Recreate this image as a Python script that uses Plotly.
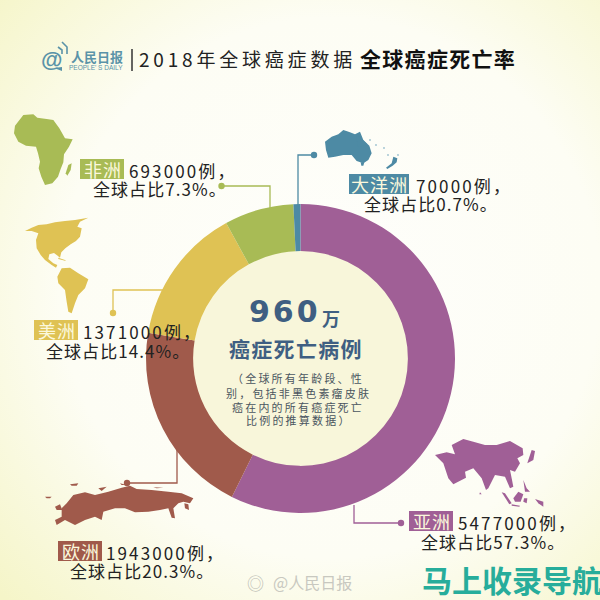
import urllib.parse
import plotly.graph_objects as go

# ---- data ----
regions = ["亚洲", "欧洲", "美洲", "非洲", "大洋洲"]
cases = [5477000, 1943000, 1371000, 693000, 70000]
shares = ["57.3", "20.3", "14.4", "7.3", "0.7"]
colors = ["#a05f96", "#a05a4b", "#dfc254", "#a8bb55", "#4d8aa4"]
title_light = "2018年全球癌症数据"
title_bold = "全球癌症死亡率"
center_big = "960"
center_unit = "万"
center_sub = "癌症死亡病例"
center_notes = ["（全球所有年龄段、性", "别，包括非黑色素瘤皮肤", "癌在内的所有癌症死亡", "比例的推算数据）"]

CJK = "Noto Sans CJK SC"
SERIF = "Liberation Serif, Noto Sans CJK SC"
INK = "#222222"
NAVY = "#3f5f82"
LOGO = "#5a93a8"
HAIR = "\u200a"
THIN = "\u2009"


def px(x):
    return x / 600


def py(y):
    return 1 - y / 600


def sp(s, gap=HAIR):
    return gap.join(s)


shapes = []
ann = []


def poly(points, color, ox=0, oy=0, k=1.0):
    pts = [(ox + a * k, oy + b * k) for a, b in points]
    d = "M" + "L".join(f"{px(a):.5f},{py(b):.5f}" for a, b in pts) + "Z"
    shapes.append(dict(type="path", path=d, xref="paper", yref="paper",
                       fillcolor=color, line=dict(width=0), layer="below"))


def line(points, color, width=1.3):
    d = "M" + "L".join(f"{px(a):.5f},{py(b):.5f}" for a, b in points)
    shapes.append(dict(type="path", path=d, xref="paper", yref="paper",
                       line=dict(color=color, width=width), layer="below"))


def circle(x, y, r, color, layer="below"):
    shapes.append(dict(type="circle", xref="paper", yref="paper",
                       x0=px(x - r), x1=px(x + r), y0=py(y + r), y1=py(y - r),
                       fillcolor=color, line=dict(width=0), layer=layer))


def rect(x0, y0, x1, y1, color):
    shapes.append(dict(type="rect", xref="paper", yref="paper",
                       x0=px(x0), x1=px(x1), y0=py(y1), y1=py(y0),
                       fillcolor=color, line=dict(width=0), layer="below"))


def text(x, y, s, size, color=INK, anchor="left", family=CJK):
    ann.append(dict(x=px(x), y=py(y), xref="paper", yref="paper", text=s,
                    showarrow=False, xanchor=anchor, yanchor="middle",
                    font=dict(family=family, size=size, color=color)))


# background gradient
svg = ("<svg xmlns='http://www.w3.org/2000/svg' width='600' height='600'>"
       "<defs><radialGradient id='g' cx='55%' cy='48%' r='75%'>"
       "<stop offset='0' stop-color='#fefefb'/><stop offset='0.6' stop-color='#fdfdf4'/>"
       "<stop offset='1' stop-color='#f5f5c8'/></radialGradient></defs>"
       "<rect width='600' height='600' fill='url(#g)'/></svg>")
bg = "data:image/svg+xml," + urllib.parse.quote(svg)

# centre disc
circle(300.5, 359.5, 109, "#f8f6da")

# leader lines + dots
line([(221, 186), (270, 186), (270, 222)], colors[3]); circle(221.5, 186, 3.2, colors[3])
line([(314, 155), (298, 155), (298, 206)], colors[4]); circle(314, 155, 3.2, colors[4])
line([(113, 313), (113, 290), (165, 290)], colors[2]); circle(113, 313, 3.2, colors[2])
line([(127, 483), (177, 483), (177, 445)], colors[1]); circle(127, 483, 3.2, colors[1])
line([(354, 505), (354, 523), (401, 523)], colors[0]); circle(401, 523, 3.2, colors[0])

# Continent silhouettes (decorative)
poly([(70,30),(100,28),(112,38),(140,42),(160,45),(178,70),(195,100),(218,103),(207,125),(192,148),(190,172),(182,192),(174,215),(157,235),(135,240),(124,215),(116,190),(120,170),(114,145),(108,125),(78,122),(55,110),(42,85),(45,62)], colors[3], 0, 105, 1/3)
poly([(205,180),(215,175),(212,195),(202,212),(197,205)], colors[3], 0, 105, 1/3)

for pts in [
    [(45,50),(65,35),(85,28),(100,15),(120,22),(135,28),(150,20),(160,45),(178,62),(185,85),(175,105),(160,115),(140,108),(125,90),(100,90),(75,95),(55,98),(48,75)],
    [(152,112),(163,112),(160,122),(154,122)],
    [(250,95),(262,100),(260,112),(248,122),(232,132),(228,128),(245,115)],
]:
    poly(pts, colors[4], 310, 125, 1/3)
poly([(356,136),(360,137),(367,144),(362,146),(358,147)], colors[4])
for ix, iy in [(370, 140), (376, 145), (388, 155), (398, 155), (384, 148)]:
    circle(ix, iy, 0.9, "#9cc0cf")

for pts in [
    [(15,48),(35,38),(55,30),(80,28),(105,22),(135,18),(165,15),(205,8),(180,20),(172,35),(185,40),(180,65),(168,78),(152,88),(136,100),(124,112),(120,128),(113,122),(102,114),(88,118),(85,132),(100,145),(112,150),(108,158),(95,150),(75,135),(62,120),(50,100),(48,75),(55,55),(35,48)],
    [(125,160),(150,158),(175,175),(205,193),(195,220),(175,240),(165,265),(155,295),(145,290),(140,260),(135,225),(115,205),(112,185)],
    [(115,128),(135,135),(138,138),(115,132)],
]:
    poly(pts, colors[2], 20, 215, 1/3)

for pts in [
    [(95,85),(115,60),(150,52),(180,60),(220,50),(260,38),(285,32),(305,42),(350,45),(400,50),(440,55),(475,70),(465,85),(445,80),(430,85),(415,100),(420,130),(410,128),(400,100),(375,105),(340,110),(300,112),(270,100),(240,100),(205,110),(200,135),(180,125),(150,135),(120,150),(90,135),(65,150),(60,135),(80,125),(80,100)],
    [(30,65),(50,65),(45,70),(35,70)], [(105,28),(130,25),(125,32),(110,32)], [(190,40),(215,35),(200,48)],
    [(255,25),(275,30),(260,30)], [(355,37),(385,38),(365,40)], [(448,85),(460,88),(462,105),(450,100)],
    [(60,95),(75,88),(82,105),(65,105)],
]:
    poly(pts, colors[1], 35, 475, 1/3)

for pts in [
    [(15,60),(50,52),(75,58),(65,30),(100,12),(130,20),(165,30),(200,30),(240,18),(278,40),(280,60),(262,70),(270,85),(255,110),(240,105),(245,130),(250,155),(240,160),(225,125),(195,120),(175,160),(168,165),(155,130),(130,100),(105,110),(108,128),(70,148),(55,130),(40,85)],
    [(305,45),(315,48),(310,75),(292,85),(295,75)], [(215,172),(225,175),(245,205),(238,208)],
    [(265,170),(280,178),(272,200),(255,200),(250,190)], [(245,208),(270,212),(268,215),(245,212)],
    [(280,135),(290,160),(300,170),(285,170)], [(282,190),(292,190),(290,205),(280,200)],
    [(315,192),(340,200),(340,215),(325,205)], [(150,172),(155,178),(148,178)],
]:
    poly(pts, colors[0], 430, 435, 1/3)

# region labels: (box x0, y centre, box x1, value x, line-2 x, line-2 y)
layout_labels = {
    "非洲": (80, 170, 124, 127, 91, 188),
    "大洋洲": (349, 185, 409, 414, 362, 203),
    "美洲": (34, 331, 78, 81, 44, 350),
    "欧洲": (58, 552, 102, 104, 68, 570),
    "亚洲": (409, 522, 453, 456, 419, 541),
}
VALUE_GAP = HAIR + HAIR
for name, n, share, col in zip(regions, cases, shares, colors):
    x0, yc, x1, vx, lx, ly = layout_labels[name]
    rect(x0, yc - 11, x1, yc + 9, col)
    text((x0 + x1) / 2, yc - 1, sp(name), 18, "#fbf8dc", "center")
    text(vx, yc, sp(f"{n}例，", VALUE_GAP), 17)
    text(lx, ly, sp(f"全球占比{share}%。"), 17)

# logo
text(51, 59, "<b>@</b>", 22, LOGO, "center", "Liberation Sans")
line([(58, 47), (62, 50), (62, 54)], LOGO, 1.6)
line([(62, 42), (67, 47), (67, 54)], LOGO, 1.6)
poly([(54, 68), (62, 67), (62, 71)], LOGO)
text(69, 56, "<b>人民日报</b>", 13, LOGO)
text(67, 67, "PEOPLE' S DAILY", 6.5, LOGO, family="Liberation Sans")
line([(132, 49), (132, 71)], "#333333", 1.5)

# title
text(137, 58, sp(title_light, THIN), 19, "#222222")
text(358, 58, "<b>" + sp(title_bold) + "</b>", 21, "#111111")

# centre text
text(283, 311, "<b>" + sp(center_big) + "</b>", 30, NAVY, "center", "DejaVu Sans")
text(331, 318, "<b>" + center_unit + "</b>", 18, NAVY, "center")
text(295.5, 348, "<b>" + sp(center_sub) + "</b>", 21, NAVY, "center")
for y, t in zip([378, 393, 407, 420], center_notes):
    text(297, y, sp(t, THIN), 11, "#4a5560", "center", SERIF)

# watermarks
text(245, 582, "◎", 17, "#bdbdb5")
text(271, 582, "@人民日报", 16, "#c8c8c0")
text(420, 579, "<b>马上收录导航</b>", 30, "#27ad9b")

fig = go.Figure(go.Pie(
    labels=regions, values=cases, sort=False, direction="clockwise", rotation=0,
    hole=0.695, textinfo="none", hoverinfo="label+value+percent",
    marker=dict(colors=colors, line=dict(width=0)),
    domain=dict(x=[146 / 600, 455 / 600], y=[py(513), py(204)]),
))
fig.update_layout(
    width=600, height=600, margin=dict(l=0, r=0, t=0, b=0), showlegend=False,
    paper_bgcolor="#fcfcf0", plot_bgcolor="rgba(0,0,0,0)",
    shapes=shapes, annotations=ann,
    images=[dict(source=bg, xref="paper", yref="paper", x=0, y=1, sizex=1, sizey=1,
                 sizing="stretch", xanchor="left", yanchor="top", layer="below")],
)
fig.write_html("out.html", config=dict(displayModeBar=False),
               post_script="document.body.style.margin='0';document.documentElement.style.overflow='hidden';")
